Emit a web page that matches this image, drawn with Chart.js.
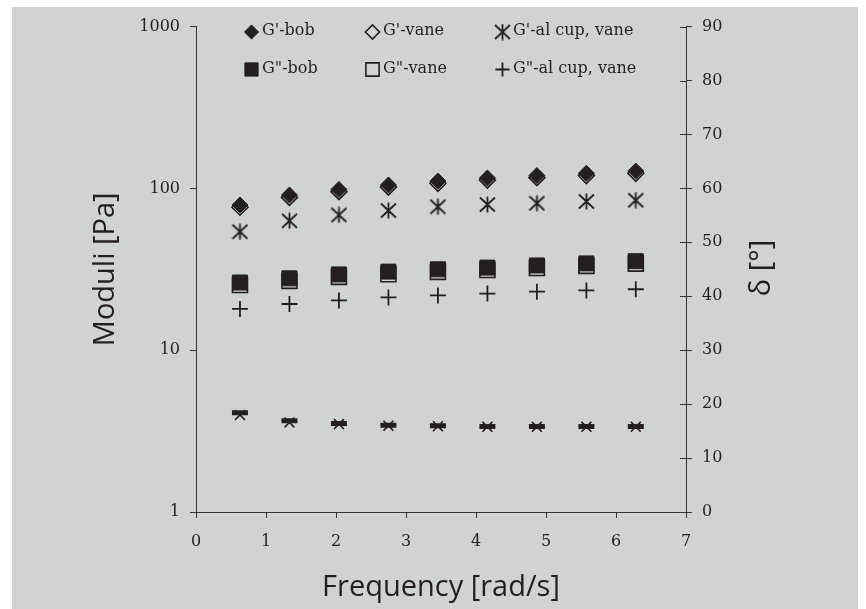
<!DOCTYPE html>
<html>
<head>
<meta charset="utf-8">
<script src="https://cdn.jsdelivr.net/npm/chart.js@4.4.1/dist/chart.umd.min.js"></script>
<style>
  html, body { margin: 0; padding: 0; background: #ffffff; }
  #wrap { position: absolute; left: 12px; top: 7px; width: 846px; height: 602px; background: #d1d2d4; }
  canvas { display: block; }
</style>
</head>
<body>
<div id="wrap"><canvas id="chart" width="846" height="602"></canvas></div>
<script>
// frequency [rad/s]
const frequency = [0.628, 1.335, 2.042, 2.749, 3.456, 4.163, 4.870, 5.577, 6.283];

// moduli [Pa] (left, log axis)
const gPrimeBob = [79, 91, 98.5, 105, 111, 116, 120, 124, 128];
const gPrimeVane = [76.5, 88, 95.5, 102, 107.5, 112.5, 116.5, 120, 124];
const gPrimeCup = [54, 63, 68.5, 73, 77, 79.5, 81, 83, 84.5];
const gDoublePrimeBob = [26.2, 27.8, 29.4, 30.6, 31.6, 32.4, 33.4, 34.4, 35.5];
const gDoublePrimeVane = [25.3, 26.8, 28.4, 29.5, 30.5, 31.3, 32.2, 33.2, 34.3];
const gDoublePrimeCup = [18, 19.3, 20.3, 21.2, 21.8, 22.4, 23.0, 23.4, 23.8];

// phase angle [deg] (right axis)
const deltaBobVane = [18.4, 16.9, 16.4, 16.1, 16.0, 15.85, 15.85, 15.85, 15.85];
const deltaCup = [18.0, 16.6, 16.3, 16.0, 15.9, 15.8, 15.8, 15.8, 15.8];

const moduliTicks = [1, 10, 100, 1000];
const labels = ["G'-bob", "G'-vane", "G'-al cup, vane", "G\"-bob", "G\"-vane", "G\"-al cup, vane"];

const ink = '#231f20';
const axisColor = '#333333';
const serif = "'DejaVu Serif', serif";
const sans = "'Open Sans', sans-serif";

function pts(ys) {
  return frequency.map((x, i) => ({x: x, y: ys[i]}));
}

// six-armed asterisk marker
function makeAsterisk(size) {
  const c = document.createElement('canvas');
  c.width = c.height = size;
  const g = c.getContext('2d');
  const m = size / 2;
  g.strokeStyle = ink;
  g.lineWidth = 1.8;
  g.beginPath();
  g.moveTo(m, 0.5); g.lineTo(m, size - 0.5);
  g.moveTo(1, 1.5); g.lineTo(size - 1, size - 1.5);
  g.moveTo(size - 1, 1.5); g.lineTo(1, size - 1.5);
  g.stroke();
  return c;
}
const asterisk = makeAsterisk(17);

const datasets = [
  {label: labels[0], data: pts(gPrimeBob), yAxisID: 'y', pointStyle: 'rectRot', pointRadius: 8,
   backgroundColor: ink, borderColor: ink, borderWidth: 1},
  {label: labels[1], data: pts(gPrimeVane), yAxisID: 'y', pointStyle: 'rectRot', pointRadius: 8,
   backgroundColor: 'rgba(0,0,0,0)', borderColor: ink, borderWidth: 1.6},
  {label: labels[2], data: pts(gPrimeCup), yAxisID: 'y', pointStyle: asterisk, pointRadius: 8,
   backgroundColor: ink, borderColor: ink, borderWidth: 1.8},
  {label: labels[3], data: pts(gDoublePrimeBob), yAxisID: 'y', pointStyle: 'rect', pointRadius: 10.6,
   backgroundColor: ink, borderColor: ink, borderWidth: 1},
  {label: labels[4], data: pts(gDoublePrimeVane), yAxisID: 'y', pointStyle: 'rect', pointRadius: 10.6,
   backgroundColor: 'rgba(0,0,0,0)', borderColor: ink, borderWidth: 1.6},
  {label: labels[5], data: pts(gDoublePrimeCup), yAxisID: 'y', pointStyle: 'cross', pointRadius: 8,
   backgroundColor: ink, borderColor: ink, borderWidth: 1.8},
  {label: 'δ-bob, vane', data: pts(deltaBobVane), yAxisID: 'yR', pointStyle: 'line', pointRadius: 8,
   backgroundColor: ink, borderColor: ink, borderWidth: 5},
  {label: 'δ-al cup, vane', data: pts(deltaCup), yAxisID: 'yR', pointStyle: 'crossRot', pointRadius: 7,
   backgroundColor: ink, borderColor: ink, borderWidth: 1.6}
];

// legend inside the plot, three columns by two rows
const legendLayout = {markerX: [239.5, 360.5, 490.5], textX: [250, 371, 501], rowY: [24, 61.5], scale: 0.88};

const insideLegend = {
  id: 'insideLegend',
  afterDraw(chart) {
    const ctx = chart.ctx;
    ctx.save();
    ctx.font = '16px ' + serif;
    ctx.textBaseline = 'middle';
    ctx.textAlign = 'left';
    for (let i = 0; i < labels.length; i++) {
      const ds = chart.data.datasets[i];
      const col = i % 3, row = Math.floor(i / 3);
      const y = legendLayout.rowY[row];
      ctx.fillStyle = ds.backgroundColor;
      ctx.strokeStyle = ds.borderColor;
      ctx.lineWidth = ds.borderWidth;
      Chart.helpers.drawPoint(ctx, {
        pointStyle: ds.pointStyle,
        radius: ds.pointRadius * legendLayout.scale,
        rotation: 0,
        borderWidth: ds.borderWidth
      }, legendLayout.markerX[col], y + 1);
      ctx.fillStyle = ink;
      ctx.fillText(labels[i], legendLayout.textX[col], y);
    }
    ctx.restore();
  }
};

// right axis: ticks cross the axis line, title reads bottom to top
const rightAxisExtras = {
  id: 'rightAxisExtras',
  afterDraw(chart) {
    const ctx = chart.ctx;
    const s = chart.scales.yR;
    const x = chart.chartArea.right;
    ctx.save();
    ctx.strokeStyle = axisColor;
    ctx.lineWidth = 1;
    ctx.beginPath();
    s.ticks.forEach(t => {
      const y = Math.round(s.getPixelForValue(t.value)) + 0.5;
      ctx.moveTo(x - 6, y);
      ctx.lineTo(x, y);
    });
    ctx.stroke();
    ctx.translate(750, 261);
    ctx.rotate(-Math.PI / 2);
    ctx.font = '29px ' + sans;
    ctx.fillStyle = ink;
    ctx.textAlign = 'center';
    ctx.textBaseline = 'middle';
    ctx.fillText('δ [°]', 0, 0);
    ctx.restore();
  }
};

const chart = new Chart(document.getElementById('chart'), {
  type: 'scatter',
  data: {datasets: datasets},
  plugins: [insideLegend, rightAxisExtras],
  options: {
    responsive: false,
    animation: false,
    layout: {padding: {left: 76, top: 13, right: 122, bottom: 0}},
    plugins: {
      legend: {display: false},
      tooltip: {enabled: false}
    },
    scales: {
      x: {
        type: 'linear',
        min: 0,
        max: 7,
        ticks: {stepSize: 1, padding: 14, color: ink, font: {family: serif, size: 16}},
        grid: {drawOnChartArea: false, tickLength: 6, color: axisColor},
        border: {color: axisColor, width: 1},
        title: {display: true, text: 'Frequency [rad/s]', color: ink,
                font: {family: sans, size: 29}, padding: {top: 0, bottom: 4}},
        afterFit: s => { s.height = 97; }
      },
      y: {
        type: 'logarithmic',
        position: 'left',
        min: 1,
        max: 1000,
        afterBuildTicks: s => { s.ticks = moduliTicks.map(v => ({value: v})); },
        ticks: {padding: 10, color: ink, font: {family: serif, size: 16}, callback: v => String(v)},
        grid: {drawOnChartArea: false, tickLength: 6, color: axisColor},
        border: {color: axisColor, width: 1},
        title: {display: true, text: 'Moduli [Pa]', color: ink,
                font: {family: sans, size: 29}, padding: 0},
        afterFit: s => { s.width = 108; }
      },
      yR: {
        type: 'linear',
        position: 'right',
        min: 0,
        max: 90,
        ticks: {stepSize: 10, padding: 10, color: ink, font: {family: serif, size: 16}},
        grid: {drawOnChartArea: false, tickLength: 6, color: axisColor},
        border: {color: axisColor, width: 1},
        afterFit: s => { s.width = 50; }
      }
    }
  }
});
</script>
</body>
</html>
